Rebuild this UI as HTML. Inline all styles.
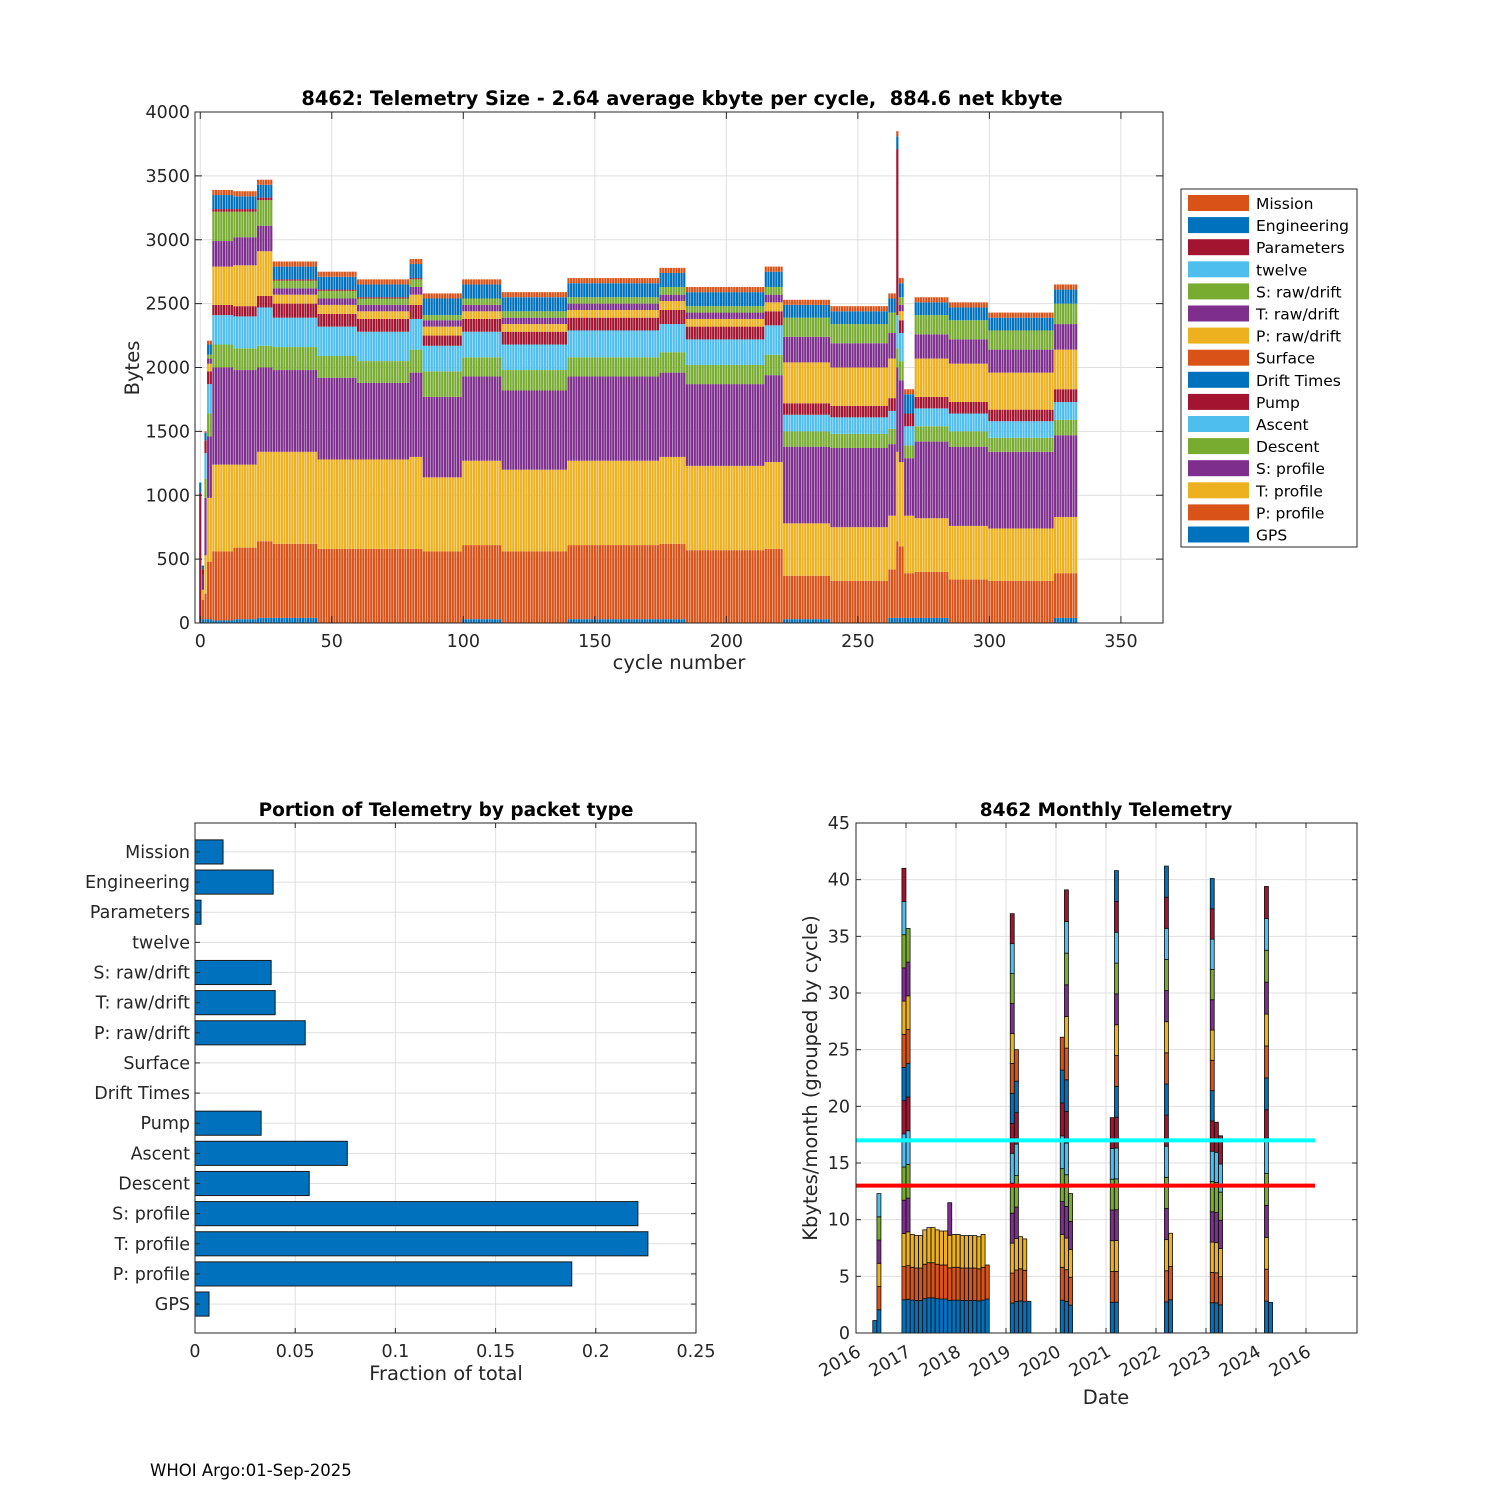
<!DOCTYPE html>
<html><head><meta charset="utf-8"><style>
html,body{margin:0;padding:0;background:#fff;}
svg{display:block;font-family:"DejaVu Sans","Liberation Sans",sans-serif;}
</style></head><body>
<svg id="fig" width="1500" height="1500" viewBox="0 0 1500 1500">
<rect width="1500" height="1500" fill="#fff"/>
<g id="top"></g>
<g id="bl"></g>
<g id="br"></g>
<text x="150" y="1476" font-size="16.5" fill="#000">WHOI Argo:01-Sep-2025</text>
</svg>
<script>
// ---------- TOP CHART DATA ----------
const seriesNames = ["GPS","P: profile","T: profile","S: profile","Descent","Ascent","Pump","Drift Times","Surface","P: raw/drift","T: raw/drift","S: raw/drift","twelve","Parameters","Engineering","Mission"];
const blockStarts = [0,1,2,3,5,13,22,28,45,60,80,85,100,115,140,175,185,215,222,240,262,265,266,268,272,285,300,325];
const lastCycle = 333;
const gpsB   = [20,30,30,30,20,30,40,40,0,0,0,0,30,0,30,30,0,0,30,0,40,40,40,40,40,0,0,40];
const pProfB = [0,150,200,450,540,560,600,580,580,580,580,560,580,560,580,590,570,580,340,330,380,600,560,350,360,340,330,350];
const tProfB = [0,80,300,500,680,650,700,720,700,700,720,580,660,640,660,680,660,680,410,420,420,700,660,450,420,420,410,440];
const sProfB = [0,120,450,480,760,740,660,640,640,600,660,630,660,620,660,660,640,680,600,620,560,660,640,450,600,620,600,640];
const descB  = [0,0,150,180,180,170,170,180,170,170,180,200,150,160,150,160,150,160,120,110,120,150,150,100,120,120,110,120];
const ascB   = [0,0,200,230,230,250,300,230,230,230,240,200,200,200,210,220,200,230,130,130,140,260,220,150,140,140,130,140];
const pumpB  = [0,40,100,100,80,80,90,110,100,100,110,80,100,100,100,110,100,110,90,90,100,0,100,100,90,90,90,100];
const driftB = [0,0,0,0,0,0,0,0,0,0,0,0,0,0,0,0,0,0,0,0,0,0,0,0,0,0,0,0];
const surfB  = [0,0,0,0,0,0,0,0,0,0,0,0,0,0,0,0,0,0,0,0,0,0,0,0,0,0,0,0];
const pRawB  = [0,0,0,60,300,320,350,70,70,60,80,70,60,60,60,70,60,70,320,300,310,0,70,0,300,300,290,310];
const tRawB  = [0,0,0,40,200,220,200,50,50,50,60,50,50,50,50,50,50,60,200,190,200,0,50,0,190,190,180,200];
const sRawB  = [0,0,0,30,230,200,200,60,60,50,60,40,50,50,50,60,50,60,150,150,160,0,60,0,150,150,150,160];
const twelveB= [0,0,0,0,0,0,0,0,0,0,0,0,0,0,0,0,0,0,0,0,0,0,0,0,0,0,0,0];
const paramB = [1000,0,0,0,20,20,20,10,10,10,10,0,0,0,0,0,0,0,0,0,0,1300,0,0,0,0,0,0];
const engB   = [80,30,60,80,110,100,100,100,100,100,110,130,110,110,110,110,110,120,100,100,110,100,110,150,100,100,100,110];
const missB  = [0,0,10,30,40,40,40,40,40,40,40,40,40,40,40,40,40,40,40,40,40,40,40,40,40,40,40,40];
const yTicksTop = [0,500,1000,1500,2000,2500,3000,3500,4000];
const xTicksTop = [0,50,100,150,200,250,300,350];

// ---------- BOTTOM LEFT DATA ----------
const packetTypes = ["GPS","P: profile","T: profile","S: profile","Descent","Ascent","Pump","Drift Times","Surface","P: raw/drift","T: raw/drift","S: raw/drift","twelve","Parameters","Engineering","Mission"];
const packetFractions = [0.007,0.188,0.226,0.221,0.057,0.076,0.033,0,0,0.055,0.040,0.038,0,0.003,0.039,0.014];
const fracTicks = [0,0.05,0.1,0.15,0.2,0.25];
const fracTickLabels = ["0","0.05","0.1","0.15","0.2","0.25"];

// ---------- BOTTOM RIGHT DATA ----------
const monthIndex = [4,5,11,12,13,14,15,16,17,18,19,20,21,22,23,24,25,26,27,28,29,30,31,37,38,39,40,41,49,50,51,61,62,74,75,85,86,87,98,99];
const monthTotals = [1.1,12.3,41,35.7,8.7,8.6,8.6,9.1,9.3,9.3,9.1,9.0,9.0,11.5,8.7,8.7,8.6,8.6,8.6,8.6,8.5,8.7,6.0,37,25,8.5,8.3,2.8,26.1,39.1,12.3,19,40.8,41.2,8.8,40.1,18.6,17.4,39.4,2.7];
const monthCycles = [1,6,14,12,3,3,3,3,3,3,3,3,3,4,3,3,3,3,3,3,3,3,2,14,9,3,3,1,9,14,5,7,15,15,3,15,7,7,14,1];
const kbTicks = [0,5,10,15,20,25,30,35,40,45];
const dateLabels = ["2016","2017","2018","2019","2020","2021","2022","2023","2024","2016"];
const refLines = [17,13];

const C = {blue:"#0072BD",orange:"#D95319",yellow:"#EDB120",purple:"#7E2F8E",green:"#77AC30",lb:"#4DBEEE",red:"#A2142F"};
const seriesColors = [C.blue,C.orange,C.yellow,C.purple,C.green,C.lb,C.red,C.blue,C.orange,C.yellow,C.purple,C.green,C.lb,C.red,C.blue,C.orange];
const colorOrder = [C.blue,C.orange,C.yellow,C.purple,C.green,C.lb,C.red];
const NS = "http://www.w3.org/2000/svg";
function mk(tag, attrs, parent){ const e=document.createElementNS(NS,tag); for(const k in attrs) e.setAttribute(k,attrs[k]); parent.appendChild(e); return e; }
function txt(parent,x,y,s,size,anchor,extra){ const t=mk("text",Object.assign({x:x,y:y,"font-size":size,"text-anchor":anchor||"middle",fill:"#262626"},extra||{}),parent); t.textContent=s; return t; }

// ===== TOP =====
(function(){
  const g=document.getElementById("top");
  const L=195,R=1163,T=112,B=623, x0=-2,x1=366, y1=4000;
  const xs=c=>L+(c-x0)/(x1-x0)*(R-L), ys=v=>B-v/y1*(B-T);
  xTicksTop.forEach(t=>{ const l=mk("line",{x1:xs(t),x2:xs(t),y1:T,y2:B,stroke:"#dfdfdf","stroke-width":1},g);
      });
  yTicksTop.forEach(t=>{ const l=mk("line",{x1:L,x2:R,y1:ys(t),y2:ys(t),stroke:"#dfdfdf","stroke-width":1},g);
      });
  const sArr=[gpsB,pProfB,tProfB,sProfB,descB,ascB,pumpB,driftB,surfB,pRawB,tRawB,sRawB,twelveB,paramB,engB,missB];
  const bw=2.2;
  for(let bi=0;bi<blockStarts.length;bi++){
    const end = bi+1<blockStarts.length?blockStarts[bi+1]-1:lastCycle;
    for(let c=blockStarts[bi];c<=end;c++){
      let acc=0;
      for(let s=0;s<sArr.length;s++){
        const v=sArr[s][bi]; if(!v) continue;
        const r=mk("rect",{x:(xs(c)-bw/2).toFixed(2),y:ys(acc+v).toFixed(2),width:bw,height:(ys(acc)-ys(acc+v)).toFixed(2),fill:seriesColors[s]},g);
        
        
        acc+=v;
      }
    }
  }
  mk("rect",{x:L,y:T,width:R-L,height:B-T,fill:"none",stroke:"#262626","stroke-width":1},g);
  xTicksTop.forEach(t=>{ mk("line",{x1:xs(t),x2:xs(t),y1:B,y2:B-7,stroke:"#262626"},g); mk("line",{x1:xs(t),x2:xs(t),y1:T,y2:T+7,stroke:"#262626"},g);
    const tl=txt(g,xs(t),B+24,String(t),17.5);   });
  yTicksTop.forEach(t=>{ mk("line",{x1:L,x2:L+7,y1:ys(t),y2:ys(t),stroke:"#262626"},g); mk("line",{x1:R,x2:R-7,y1:ys(t),y2:ys(t),stroke:"#262626"},g);
    const tl=txt(g,L-5,ys(t)+6,String(t),17.5,"end");   });
  const ti=txt(g,682,105,"8462: Telemetry Size - 2.64 average kbyte per cycle,\u00a0 884.6 net kbyte",19.4,"middle",{"font-weight":"bold",fill:"#000"});
   
  const xl=txt(g,679,669,"cycle number",19.5);  
  const yl=txt(g,0,0,"Bytes",19.5,"middle",{transform:"translate(139,368) rotate(-90)"});  
  const lg=mk("g",{},g);  
  mk("rect",{x:1181,y:189,width:176,height:358,fill:"#fff",stroke:"#262626"},lg);
  for(let i=0;i<16;i++){
    const s=15-i, y=203+i*22.1;
    const e=mk("g",{},lg);  
    mk("rect",{x:1188,y:y-8,width:61,height:16,fill:seriesColors[s]},e);
    txt(e,1256,y+6,seriesNames[s],15.5,"start",{fill:"#000"});
  }
})();

// ===== BOTTOM LEFT =====
(function(){
  const g=document.getElementById("bl");
  const L=195,R=696,T=823,B=1333, y0=0.04,y1=16.96;
  const xs=v=>L+v/0.25*(R-L), ys=k=>B-(k-y0)/(y1-y0)*(B-T);
  fracTicks.forEach(t=>{ const l=mk("line",{x1:xs(t),x2:xs(t),y1:T,y2:B,stroke:"#dfdfdf"},g);   });
  packetTypes.forEach((n,i)=>{ const l=mk("line",{x1:L,x2:R,y1:ys(i+1),y2:ys(i+1),stroke:"#dfdfdf"},g);   });
  const bh=(ys(0)-ys(1))*0.8;
  packetFractions.forEach((v,i)=>{ if(v<=0) return;
    const r=mk("rect",{x:xs(0),y:ys(i+1)-bh/2,width:xs(v)-xs(0),height:bh,fill:C.blue,stroke:"#1a1a1a","stroke-width":1},g);
    
     });
  mk("rect",{x:L,y:T,width:R-L,height:B-T,fill:"none",stroke:"#262626"},g);
  fracTicks.forEach((t,i)=>{ mk("line",{x1:xs(t),x2:xs(t),y1:B,y2:B-5,stroke:"#262626"},g); mk("line",{x1:xs(t),x2:xs(t),y1:T,y2:T+5,stroke:"#262626"},g);
    const tl=txt(g,xs(t),B+24,fracTickLabels[i],17.5);   });
  packetTypes.forEach((n,i)=>{ mk("line",{x1:L,x2:L+5,y1:ys(i+1),y2:ys(i+1),stroke:"#262626"},g); mk("line",{x1:R,x2:R-5,y1:ys(i+1),y2:ys(i+1),stroke:"#262626"},g);
    const tl=txt(g,L-5,ys(i+1)+6,n,17.5,"end");   });
  const ti=txt(g,446,816,"Portion of Telemetry by packet type",18.5,"middle",{"font-weight":"bold",fill:"#000"});  
  const xl=txt(g,446,1380,"Fraction of total",19.5);  
})();

// ===== BOTTOM RIGHT =====
(function(){
  const g=document.getElementById("br");
  const L=856,R=1357,T=823,B=1333, y1=45, mw=50/12;
  const ys=v=>B-v/y1*(B-T), xm=m=>L+(m+0.5)*mw;
  for(let i=0;i<dateLabels.length;i++){ const x=L+i*50; const l=mk("line",{x1:x,x2:x,y1:T,y2:B,stroke:"#dfdfdf"},g);   }
  kbTicks.forEach(t=>{ const l=mk("line",{x1:L,x2:R,y1:ys(t),y2:ys(t),stroke:"#dfdfdf"},g);   });
  monthIndex.forEach((m,i)=>{
    const n=monthCycles[i], seg=monthTotals[i]/n;
    for(let j=0;j<n;j++){
      const r=mk("rect",{x:(xm(m)-2).toFixed(2),y:ys(seg*(j+1)).toFixed(2),width:4,height:(ys(seg*j)-ys(seg*(j+1))).toFixed(2),fill:colorOrder[j%7],stroke:"#111","stroke-width":0.8},g);
      
      
    }
  });
  const lc=["#00FFFF","#FF0000"];
  refLines.forEach((v,i)=>{ const l=mk("line",{x1:L,x2:1315,y1:ys(v),y2:ys(v),stroke:lc[i],"stroke-width":4},g);
      });
  mk("rect",{x:L,y:T,width:R-L,height:B-T,fill:"none",stroke:"#262626"},g);
  dateLabels.forEach((s,i)=>{ const x=L+i*50; mk("line",{x1:x,x2:x,y1:B,y2:B-5,stroke:"#262626"},g); mk("line",{x1:x,x2:x,y1:T,y2:T+5,stroke:"#262626"},g);
    const tl=txt(g,0,0,s,17.5,"end",{transform:`translate(${x+6},${B+22}) rotate(-30)`});   });
  kbTicks.forEach(t=>{ mk("line",{x1:L,x2:L+5,y1:ys(t),y2:ys(t),stroke:"#262626"},g); mk("line",{x1:R,x2:R-5,y1:ys(t),y2:ys(t),stroke:"#262626"},g);
    const tl=txt(g,L-6,ys(t)+6,String(t),17.5,"end");   });
  const ti=txt(g,1106,816,"8462 Monthly Telemetry",18.5,"middle",{"font-weight":"bold",fill:"#000"});  
  const xl=txt(g,1106,1404,"Date",19.5);  
  const yl=txt(g,0,0,"Kbytes/month (grouped by cycle)",19.5,"middle",{transform:"translate(817,1078) rotate(-90)"});  
})();
</script>
</body></html>
